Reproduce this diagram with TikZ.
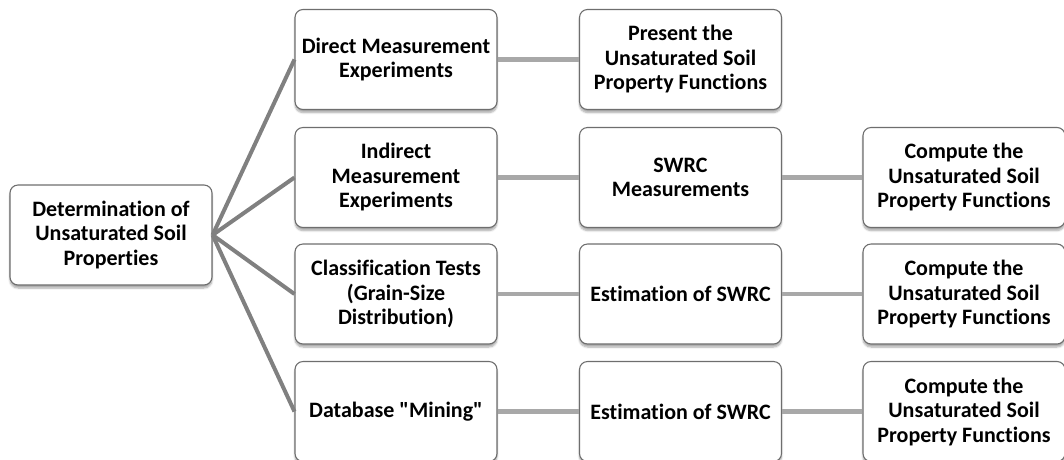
\documentclass[tikz,border=0pt]{standalone}
\usepackage{fontspec}
\setmainfont{Carlito}[Ligatures={NoCommon}]
\usetikzlibrary{shadows.blur}
\definecolor{boxborder}{HTML}{6E6E6E}
\definecolor{fanline}{HTML}{808080}
\definecolor{chainline}{HTML}{A8A8A8}
\tikzset{
  box/.style={draw=boxborder, line width=1.1pt, fill=white, rounded corners=8pt,
    minimum width=202pt, minimum height=100pt, align=center, inner sep=2pt,
    font=\fontsize{22pt}{24.5pt}\selectfont\bfseries,
    blur shadow={shadow xshift=0pt, shadow yshift=-3pt, shadow blur steps=6, shadow opacity=35}},
  fan/.style={draw=fanline, line width=4pt},
  chain/.style={draw=chainline, line width=4.5pt}
}
\begin{document}
\begin{tikzpicture}[x=1pt,y=-1pt]
\useasboundingbox (0,0) rectangle (1064,459);
\node[box] (root) at (111,235) {Determination of\\Unsaturated Soil\\Properties};
\node[box] (d1) at (396,59.5) {Direct Measurement\\Experiments};
\node[box] (d2) at (396,177.5) {Indirect\\Measurement\\Experiments};
\node[box] (d3) at (396,294) {Classification Tests\\(Grain-Size\\Distribution)};
\node[box] (d4) at (396,411.5) {Database \textquotedbl Mining\textquotedbl};
\node[box] (e1) at (680.5,59.5) {Present the\\Unsaturated Soil\\Property Functions};
\node[box] (e2) at (680.5,177.5) {SWRC\\Measurements};
\node[box] (e3) at (680.5,294) {Estimation of SWRC};
\node[box] (e4) at (680.5,411.5) {Estimation of SWRC};
\node[box] (f2) at (964,177.5) {Compute the\\Unsaturated Soil\\Property Functions};
\node[box] (f3) at (964,294) {Compute the\\Unsaturated Soil\\Property Functions};
\node[box] (f4) at (964,411.5) {Compute the\\Unsaturated Soil\\Property Functions};
\begin{scope}[line cap=butt]
\foreach \t in {d1,d2,d3,d4} \draw[fan] (root.east) -- (\t.west);
\draw[chain] (d1.east) -- (e1.west);
\draw[chain] (d2.east) -- (e2.west);
\draw[chain] (d3.east) -- (e3.west);
\draw[chain] (d4.east) -- (e4.west);
\draw[chain] (e2.east) -- (f2.west);
\draw[chain] (e3.east) -- (f3.west);
\draw[chain] (e4.east) -- (f4.west);
\end{scope}
\end{tikzpicture}
\end{document}
